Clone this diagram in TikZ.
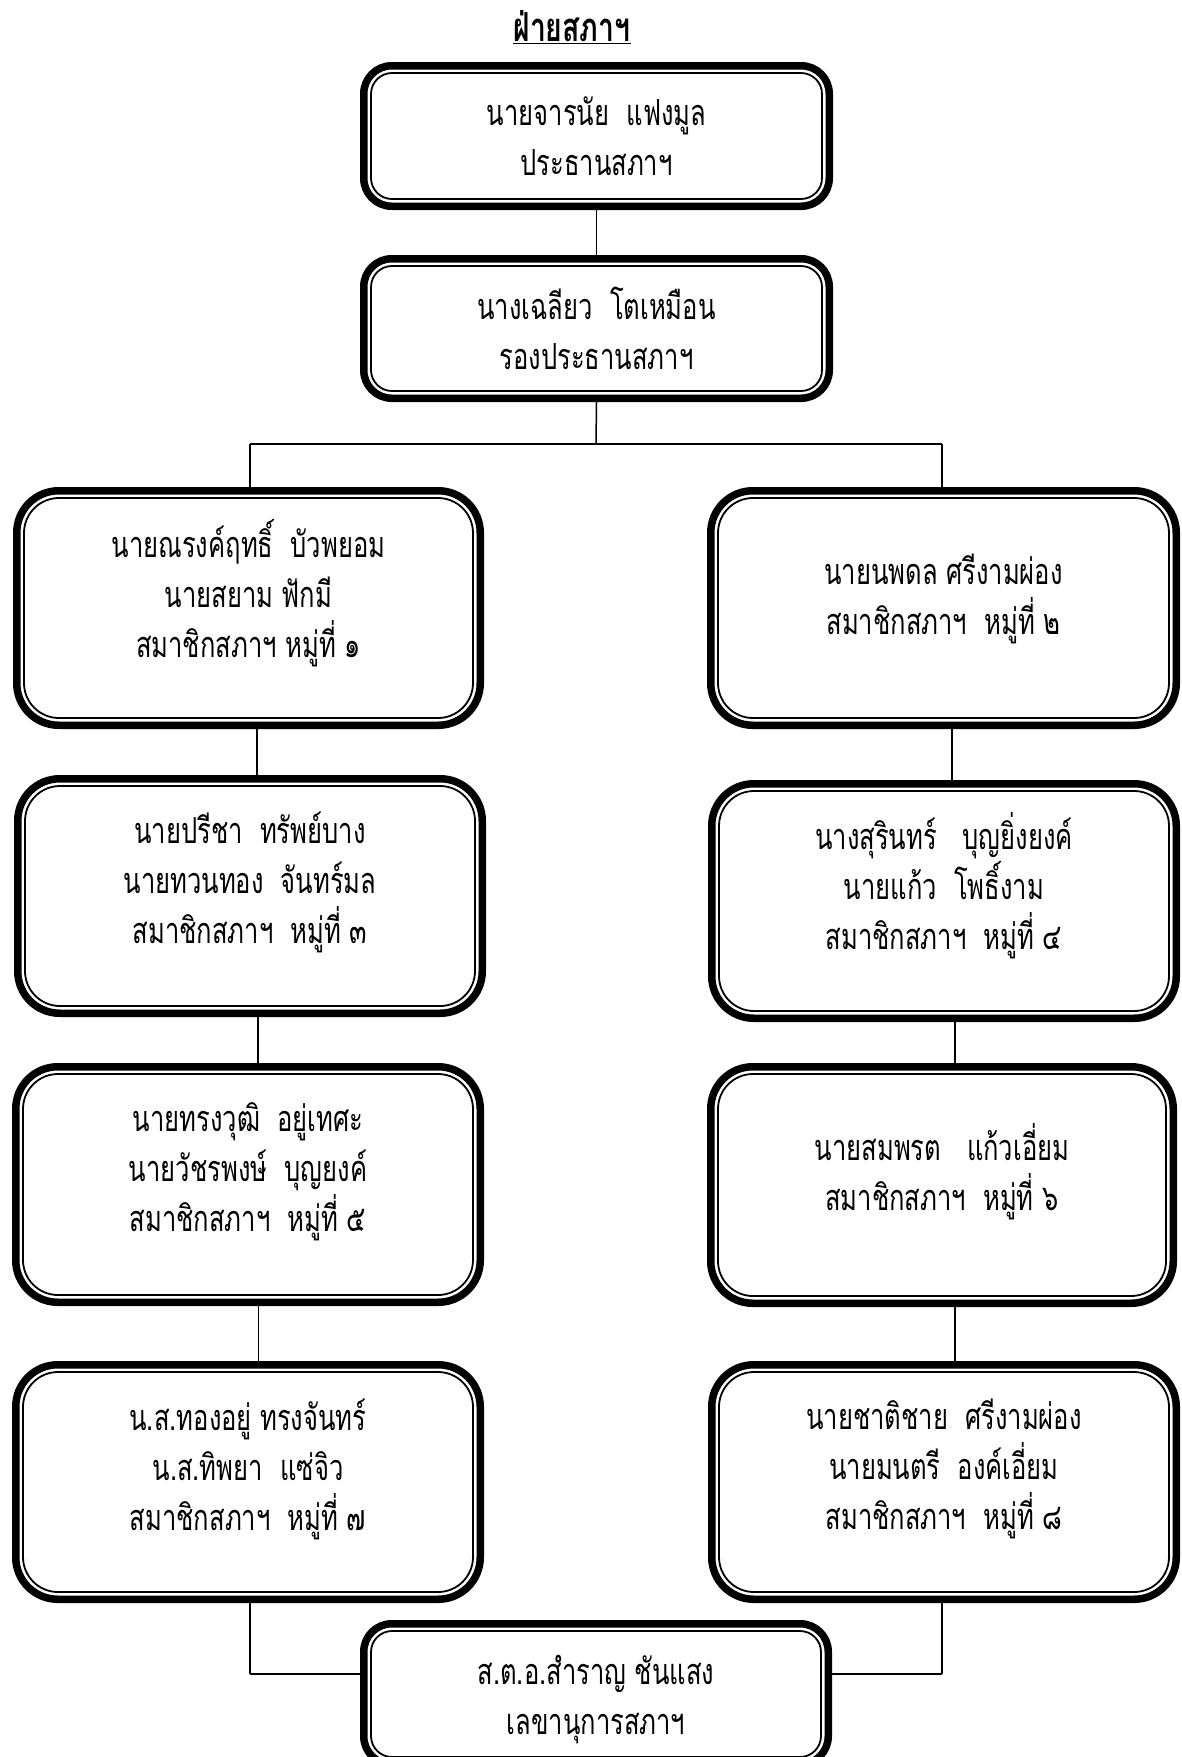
\documentclass[tikz,border=0pt]{standalone}
\usepackage{fontspec}
\newfontfamily\thai[Script=Thai,FakeStretch=0.71]{Loma}
\tikzset{
  boxouter/.style={draw, line width=7.5pt, inner sep=0pt},
  boxinner/.style={draw, line width=1.8pt},
  boxtext/.style={align=center, inner sep=0pt,
    font=\fontsize{36}{50}\selectfont\thai},
  conn/.style={line width=1.5pt},
  connthick/.style={line width=2.2pt},
  titlestyle/.style={inner sep=0pt, font=\fontsize{40}{44}\selectfont\bfseries\thai},
}
% name, cx, cy, w, h, r, text dy, text
\newcommand\orgbox[8]{%
  \pgfmathsetmacro\rin{#6-7}%
  \node[boxouter, minimum width={(#4-7.5)*1pt}, minimum height={(#5-7.5)*1pt},
        rounded corners=#6pt] (#1) at (#2,#3) {};
  \draw[boxinner, rounded corners=\rin pt]
    ({#2-#4/2+11},{#3-#5/2+11}) rectangle ({#2+#4/2-11},{#3+#5/2-11});
  \node[boxtext] (#1t) at (#2,{#3+#7}) {#8};
}
\begin{document}
\begin{tikzpicture}[x=1pt,y=-1pt]
\useasboundingbox (0,0) rectangle (1182,1757);
\clip (0,0) rectangle (1182,1757);
\fill[white] (0,0) rectangle (1182,1757);

\node[titlestyle] (title) at (572,27) {\underline{ฝ่ายสภาฯ}};

\orgbox{B1}{596.5}{136}{473}{148}{28}{0}{นายจารนัย~~แฟงมูล\\ประธานสภาฯ}
\orgbox{B2}{596.5}{328.5}{473}{147}{28}{0}{นางเฉลียว~~โตเหมือน\\รองประธานสภาฯ}

\orgbox{L1}{248.5}{608}{471}{242}{42}{-15}{นายณรงค์ฤทธิ์~~บัวพยอม\\นายสยาม ฟักมี\\สมาชิกสภาฯ~หมู่ที่ ๑}
\orgbox{R1}{943.5}{608}{473}{242}{42}{-9}{นายนพดล ศรีงามผ่อง\\สมาชิกสภาฯ~~หมู่ที่ ๒}

\orgbox{L2}{250}{896}{472}{242}{42}{-14}{นายปรีชา~~ทรัพย์บาง\\นายทวนทอง~~จันทร์มล\\สมาชิกสภาฯ~~หมู่ที่ ๓}
\orgbox{R2}{944}{901}{472}{242}{42}{-15}{นางสุรินทร์~~~บุญยิ่งยงค์\\นายแก้ว~~โพธิ์งาม\\สมาชิกสภาฯ~~หมู่ที่ ๔}

\orgbox{L3}{248}{1184.5}{472}{243}{42}{-13}{นายทรงวุฒิ~~อยู่เทศะ\\นายวัชรพงษ์~~บุญยงค์\\สมาชิกสภาฯ~~หมู่ที่ ๕}
\orgbox{R3}{942}{1185}{470}{244}{42}{-13}{นายสมพรต~~~แก้วเอี่ยม\\สมาชิกสภาฯ~~หมู่ที่ ๖}

\orgbox{L4}{248}{1482}{472}{242}{42}{-13}{น.ส.ทองอยู่ ทรงจันทร์\\น.ส.ทิพยา~~แซ่จิว\\สมาชิกสภาฯ~~หมู่ที่ ๗}
\orgbox{R4}{944}{1482}{472}{242}{42}{-13}{นายชาติชาย~~ศรีงามผ่อง\\นายมนตรี~~องค์เอี่ยม\\สมาชิกสภาฯ~~หมู่ที่ ๘}

\orgbox{B3}{596}{1694}{472}{148}{28}{6}{ส.ต.อ.สำราญ ชันแสง\\เลขานุการสภาฯ}

% connectors
\coordinate (hb) at (596,444);
\coordinate (hl) at (250,444);
\coordinate (hr) at (942,444);
\draw[conn] (B1.south) -- (B2.north);
\draw[conn] (B2.south) -- (hb);
\draw[conn] (hl) -- (hr);
\draw[conn] (hl) -- (hl |- L1.north);
\draw[conn] (hr) -- (hr |- R1.north);

\draw[conn] ([xshift=8.5pt]L1.south) -- ([xshift=7pt]L2.north);
\draw[conn] ([xshift=8pt]L2.south) -- ([xshift=10pt]L3.north);
\draw[conn] ([xshift=10.5pt]L3.south) -- ([xshift=10.5pt]L4.north);

\draw[conn] ([xshift=8.5pt]R1.south) -- ([xshift=8pt]R2.north);
\draw[conn] ([xshift=11pt]R2.south) -- ([xshift=13pt]R3.north);
\draw[conn] ([xshift=13pt]R3.south) -- ([xshift=11pt]R4.north);

\coordinate (bl) at (250,1674);
\coordinate (br) at (942,1674);
\draw[conn] ([xshift=2pt]L4.south) -- (bl);
\draw[conn] ([xshift=-2pt]R4.south) -- (br);
\draw[connthick] (bl) -- (B3.west |- bl);
\draw[connthick] (br) -- (B3.east |- br);
\end{tikzpicture}
\end{document}
